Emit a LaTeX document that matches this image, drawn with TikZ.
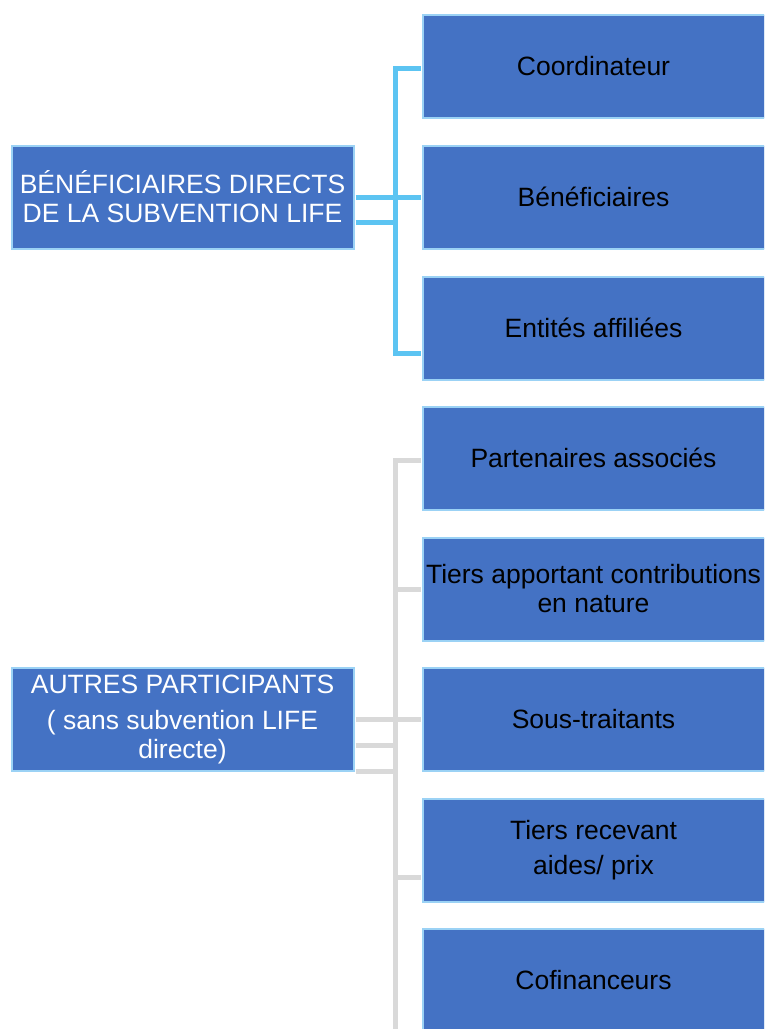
\documentclass[tikz,border=0pt]{standalone}
\usepackage{fontspec}
\setmainfont{Liberation Sans}
\definecolor{boxfill}{HTML}{4472C4}
\definecolor{boxedge}{RGB}{155,210,245}
\definecolor{bluecon}{RGB}{92,196,242}
\definecolor{graycon}{HTML}{D9D9D9}
\tikzset{
  leftbox/.style={draw=boxedge, line width=2pt, fill=boxfill, minimum width=342pt, minimum height=103pt, inner sep=0pt, text=white, align=center, font=\fontsize{26.5}{29}\selectfont},
  rightbox/.style={draw=boxedge, line width=2pt, fill=boxfill, minimum width=342pt, minimum height=103pt, inner sep=0pt, text=black, align=center, font=\fontsize{26.5}{29}\selectfont},
  bluelink/.style={draw=bluecon, line width=5pt},
  graylink/.style={draw=graycon, line width=5pt},
}
\begin{document}
\begin{tikzpicture}[x=1pt,y=-1pt]
\useasboundingbox (0,0) rectangle (764,1029);
\clip (0,0) rectangle (764,1029);
% left boxes
\node[leftbox] (ben) at (182.5,197) {BÉNÉFICIAIRES DIRECTS\\DE LA SUBVENTION LIFE};
\node[leftbox] (aut) at (182.5,719) {\raisebox{-4pt}{AUTRES PARTICIPANTS}\\[7pt]\raisebox{-4pt}{( sans subvention LIFE}\\\raisebox{-4pt}{directe)}};
% right boxes
\node[rightbox] (coord) at (593.5,66)  {Coordinateur};
\node[rightbox] (bene)  at (593.5,197) {Bénéficiaires};
\node[rightbox] (ent)   at (593.5,328) {Entités affiliées};
\node[rightbox] (part)  at (593.5,458) {Partenaires associés};
\node[rightbox] (tap)   at (593.5,589) {Tiers apportant contributions\\en nature};
\node[rightbox] (sous)  at (593.5,719) {Sous-traitants};
\node[rightbox] (trv)   at (593.5,850) {Tiers recevant\\[6pt]aides/ prix};
\node[rightbox] (cof)   at (593.5,980) {Cofinanceurs};
% blue connectors
\coordinate (bt) at (395,68);
\coordinate (bb) at (395,353);
\coordinate (b2) at ([yshift=-25pt]ben.east);
\draw[bluelink] ([xshift=-1pt]coord.west |- bt) -- (bt) -- (bb) -- ([xshift=-1pt]ent.west |- bb);
\draw[bluelink] ([xshift=1pt]ben.east) -- ([xshift=-1pt]bene.west);
\draw[bluelink] ([xshift=1pt]b2) -- (b2 -| bt);
% gray connectors
\coordinate (gt) at (395,460);
\coordinate (gb) at (395,1040);
\coordinate (g2) at ([yshift=-26pt]aut.east);
\coordinate (g3) at ([yshift=-52pt]aut.east);
\coordinate (g4) at ([yshift=-27pt]trv.west);
\draw[graylink] ([xshift=-1pt]part.west |- gt) -- (gt) -- (gb);
\draw[graylink] ([xshift=-1pt]tap.west) -- (tap.west -| gt);
\draw[graylink] ([xshift=1pt]aut.east) -- ([xshift=-1pt]sous.west);
\draw[graylink] ([xshift=1pt]g2) -- (g2 -| gt);
\draw[graylink] ([xshift=1pt]g3) -- (g3 -| gt);
\draw[graylink] ([xshift=-1pt]g4) -- (g4 -| gt);
\end{tikzpicture}
\end{document}
